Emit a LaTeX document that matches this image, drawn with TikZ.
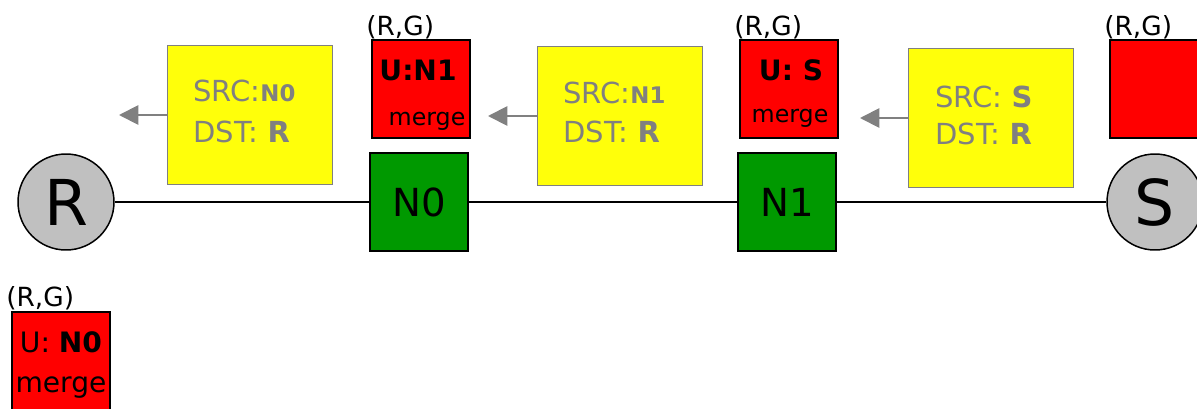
\documentclass[tikz,border=0pt]{standalone}
\usepackage{fontspec}
\setmainfont{DejaVu Sans}
\usetikzlibrary{arrows.meta}
\definecolor{hostgray}{HTML}{C0C0C0}
\definecolor{routergreen}{HTML}{009900}
\definecolor{pktyellow}{HTML}{FFFF0A}
\definecolor{pktgray}{HTML}{808080}
\definecolor{statered}{HTML}{FF0000}
\tikzset{
  host/.style={circle, draw=black, line width=0.85pt, fill=hostgray, minimum size=1.92cm, inner sep=0pt, font=\fontsize{36}{40}\selectfont},
  router/.style={rectangle, draw=black, line width=0.85pt, fill=routergreen, minimum size=1.96cm, inner sep=0pt, font=\fontsize{22}{24}\selectfont},
  packet/.style={rectangle, draw=pktgray, line width=1.1pt, fill=pktyellow, minimum width=3.3cm, minimum height=2.78cm},
  pkttext/.style={anchor=base west, inner sep=0pt, text=pktgray, font=\fontsize{16.5}{20}\selectfont},
  state/.style={rectangle, draw=black, line width=0.85pt, fill=statered, minimum size=1.96cm, inner sep=0pt},
  statetext/.style={anchor=base, inner sep=0pt, font=\fontsize{16}{20}\selectfont},
  rglabel/.style={anchor=base west, inner sep=0pt, font=\fontsize{15}{18}\selectfont},
  fwd/.style={-{Triangle[length=11pt,width=11pt]}, draw=pktgray, line width=1.1pt}
}
\begin{document}
\begin{tikzpicture}[x=0.02cm, y=-0.02cm]
        \useasboundingbox (0,0) rectangle (1197,409);
        \clip (0,0) rectangle (1197,409);

        % Hosts and routers on the path
        \node[host] (R) at (66,202) {R};
        \node[router] (N0) at (419,202) {N0};
        \node[router] (N1) at (787,202) {N1};
        \node[host] (S) at (1155,202) {S};
        \draw[line width=1pt] (R) -- (N0) -- (N1) -- (S);

        % Packets travelling towards R
        \node[packet] (p1) at (250,115) {};
        \node[pkttext] (p1src) at (193,101) {SRC:\textbf{\fontsize{13}{16}\selectfont N0}};
        \node[pkttext] (p1dst) at (193,142) {DST: \textbf{R}};
        \node[packet] (p2) at (620,116) {};
        \node[pkttext] (p2src) at (563,103) {SRC:\textbf{\fontsize{13}{16}\selectfont N1}};
        \node[pkttext] (p2dst) at (563,142) {DST: \textbf{R}};
        \node[packet] (p3) at (991,118) {};
        \node[pkttext] (p3src) at (935,107) {SRC: \textbf{S}};
        \node[pkttext] (p3dst) at (935,144) {DST: \textbf{R}};

        % Arrows out of the packets
        \coordinate (t1) at (119,115);
        \coordinate (t2) at (488,116);
        \coordinate (t3) at (860,118);
        \draw[fwd] (p1.west) -- (t1);
        \draw[fwd] (p2.west) -- (t2);
        \draw[fwd] (p3.west) -- (t3);

        % State tables
        \node[state] (st1) at (421,89) {};
        \node[statetext] (st1u) at (418,80) {\textbf{U:N1}};
        \node[statetext, font=\fontsize{13.5}{16}\selectfont] (st1m) at (427,125) {merge};
        \node[rglabel] (rg1) at (366,35) {(R,G)};

        \node[state] (st2) at (789,89) {};
        \node[statetext] (st2u) at (791,80) {\textbf{U: S}};
        \node[statetext, font=\fontsize{13.5}{16}\selectfont] (st2m) at (790,122) {merge};
        \node[rglabel] (rg2) at (734,35) {(R,G)};

        \node[state] (st3) at (1159,89) {};
        \node[rglabel] (rg3) at (1104,35) {(R,G)};

        \node[state] (st4) at (61,361) {};
        \node[statetext] (st4u) at (61,352) {U: \textbf{N0}};
        \node[statetext] (st4m) at (61,392) {merge};
        \node[rglabel] (rg4) at (6,306) {(R,G)};
\end{tikzpicture}
\end{document}
